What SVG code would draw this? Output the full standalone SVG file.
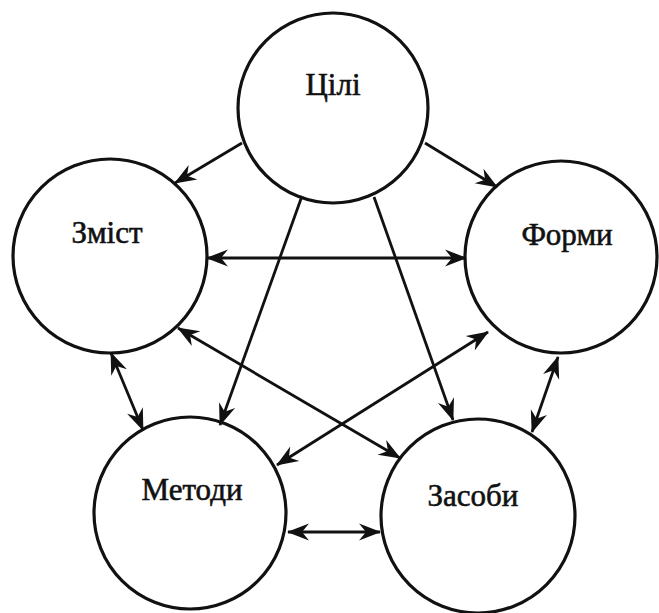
<svg xmlns="http://www.w3.org/2000/svg" width="659" height="613" viewBox="0 0 659 613">
<style>
.node circle{fill:#fff;stroke:#111;stroke-width:3.2}
.node text{font-family:"Liberation Serif","Times New Roman",serif;font-size:31px;fill:#111;stroke:#111;stroke-width:0.6;text-anchor:middle}
.edges line{stroke:#111;stroke-width:2.8;fill:none}
</style>
<defs>
<marker id="ah" viewBox="-23 -10 25 20" refX="0" refY="0" markerWidth="25" markerHeight="20" markerUnits="userSpaceOnUse" orient="auto-start-reverse">
<path d="M1,0 L-21,-8.5 L-14,0 L-21,8.5 Z" fill="#111"/>
</marker>
</defs>
<rect width="659" height="613" fill="#fff"/>
<g id="n-tsili" class="node"><circle cx="333" cy="108" r="95"/><text x="333" y="95">Цілі</text></g>
<g id="n-zmist" class="node"><circle cx="110" cy="256" r="97"/><text x="107" y="243">Зміст</text></g>
<g id="n-formy" class="node"><circle cx="561" cy="257" r="96"/><text x="567" y="245">Форми</text></g>
<g id="n-metody" class="node"><circle cx="190" cy="513" r="96"/><text x="192" y="500">Методи</text></g>
<g id="n-zasoby" class="node"><circle cx="478" cy="516" r="97"/><text x="473" y="506">Засоби</text></g>
<g id="edges" class="edges">
<line x1="242" y1="143" x2="175" y2="183" marker-end="url(#ah)"/>
<line x1="425" y1="143" x2="497" y2="187" marker-end="url(#ah)"/>
<line x1="207" y1="258" x2="466" y2="258" marker-start="url(#ah)" marker-end="url(#ah)"/>
<line x1="302" y1="196" x2="220" y2="425" marker-end="url(#ah)"/>
<line x1="374" y1="197" x2="453" y2="420" marker-end="url(#ah)"/>
<line x1="178" y1="328" x2="400" y2="458" marker-start="url(#ah)" marker-end="url(#ah)"/>
<line x1="488" y1="332" x2="277" y2="465" marker-start="url(#ah)" marker-end="url(#ah)"/>
<line x1="111" y1="353" x2="143" y2="430" marker-start="url(#ah)" marker-end="url(#ah)"/>
<line x1="558" y1="357" x2="532" y2="432" marker-start="url(#ah)" marker-end="url(#ah)"/>
<line x1="288" y1="532" x2="380" y2="532" marker-start="url(#ah)" marker-end="url(#ah)"/>
</g>
</svg>
